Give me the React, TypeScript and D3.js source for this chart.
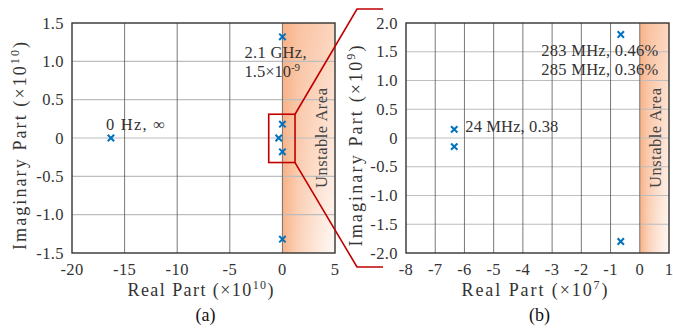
import React from "react";
import * as d3 from "d3";

const FONT = "'Liberation Serif', 'DejaVu Serif', serif";
const BLUE = "#0072BD";
const RED = "#C00000";

// Panel (a) data (units of 1e10)
const aXTicks = [-20, -15, -10, -5, 0, 5];
const aYTicks = [-1.5, -1.0, -0.5, 0, 0.5, 1.0, 1.5];
const aPolesRe = [-16.3, 0, 0, -0.35, 0, 0];
const aPolesIm = [0, 1.32, 0.18, 0, -0.18, -1.32];

// Panel (b) data (real 1e7, imag 1e9)
const bXTicks = [-8, -7, -6, -5, -4, -3, -2, -1, 0, 1];
const bYTicks = [-2.0, -1.5, -1.0, -0.5, 0, 0.5, 1.0, 1.5, 2.0];
const bPolesRe = [-0.65, -0.65, -6.35, -6.35];
const bPolesIm = [1.8, -1.8, 0.15, -0.15];

const fmtY = (v: number) => (v === 0 ? "0" : v.toFixed(1));

function Cross({ x, y }: { x: number; y: number }) {
  const s = 3.2;
  return (
    <g stroke={BLUE} strokeWidth={2}>
      <line x1={x - s} y1={y - s} x2={x + s} y2={y + s} />
      <line x1={x - s} y1={y + s} x2={x + s} y2={y - s} />
    </g>
  );
}

function Panel(props: {
  id: string;
  x0: number;
  x1: number;
  y0: number;
  y1: number;
  xDomain: [number, number];
  yDomain: [number, number];
  xTicks: number[];
  yTicks: number[];
  re: number[];
  im: number[];
  xExp: string;
  yExp: string;
  tag: string;
  yLabelX: number;
  yLabelLen: number;
  children?: (x: d3.ScaleLinear<number, number>, y: d3.ScaleLinear<number, number>) => React.ReactNode;
}) {
  const x = d3.scaleLinear().domain(props.xDomain).range([props.x0, props.x1]);
  const y = d3.scaleLinear().domain(props.yDomain).range([props.y1, props.y0]);
  const zx = x(0);
  const gid = "grad" + props.id;
  const vid = "vgrad" + props.id;
  const mid = "mask" + props.id;
  const hmid = "hmask" + props.id;
  const cx = (props.x0 + props.x1) / 2;
  const cy = (props.y0 + props.y1) / 2;
  const w = props.x1 - zx;
  const h = props.y1 - props.y0;
  return (
    <g fontFamily={FONT} fill="#333">
      <defs>
        <linearGradient id={gid} x1="0" x2="1" y1="0" y2="0">
          <stop offset="0" stopColor="#f8b287" />
          <stop offset="0.3" stopColor="#fac3a2" />
          <stop offset="1" stopColor="#fcd6bf" />
        </linearGradient>
        <linearGradient id={vid} x1="0" x2="0" y1="0" y2="1">
          <stop offset="0" stopColor="#fff" stopOpacity={0} />
          <stop offset="1" stopColor="#fff" stopOpacity={0.85} />
        </linearGradient>
        <linearGradient id={hmid} x1="0" x2="1" y1="0" y2="0">
          <stop offset="0" stopColor="#000" />
          <stop offset="0.2" stopColor="#333" />
          <stop offset="1" stopColor="#fff" />
        </linearGradient>
        <mask id={mid} maskUnits="userSpaceOnUse" x={zx} y={props.y0} width={w} height={h}>
          <rect x={zx} y={props.y0} width={w} height={h} fill={`url(#${hmid})`} />
        </mask>
      </defs>
      <rect x={zx} y={props.y0} width={w} height={h} fill={`url(#${gid})`} />
      <rect x={zx} y={props.y0} width={w} height={h} fill={`url(#${vid})`} mask={`url(#${mid})`} />
      {props.yTicks.slice(1, -1).map((t) => (
        <line key={"h" + t} x1={props.x0} x2={props.x1} y1={y(t)} y2={y(t)} stroke="#bdbdbd" strokeWidth={1.2} />
      ))}
      {props.xTicks.slice(1, -1).map((t) => (
        <line key={"v" + t} x1={x(t)} x2={x(t)} y1={props.y0} y2={props.y1} stroke="#555" strokeWidth={0.8} />
      ))}
      <rect x={props.x0} y={props.y0} width={props.x1 - props.x0} height={h} fill="none" stroke="#333" strokeWidth={1.4} />
      <text
        transform={`translate(${props.x1 - 8},${cy}) rotate(-90)`}
        textAnchor="middle"
        fontSize={16.5}
        fill="#444"
        textLength={100}
        lengthAdjust="spacing"
      >
        Unstable Area
      </text>
      {props.re.map((r, i) => (
        <Cross key={i} x={x(r)} y={y(props.im[i])} />
      ))}
      {props.xTicks.map((t) => (
        <text key={"xt" + t} x={x(t)} y={props.y1 + 22} textAnchor="middle" fontSize={16.5} letterSpacing={0.4}>
          {String(t)}
        </text>
      ))}
      {props.yTicks.map((t) => (
        <text key={"yt" + t} x={props.x0 - 8} y={y(t) + 5.5} textAnchor="end" fontSize={16.5} letterSpacing={0.4}>
          {fmtY(t)}
        </text>
      ))}
      <text x={cx - 3} y={props.y1 + 43} textAnchor="middle" fontSize={18} textLength={146} lengthAdjust="spacing">
        Real Part (×10<tspan dy={-7} fontSize={12}>{props.xExp}</tspan>
        <tspan dy={7}>)</tspan>
      </text>
      <text
        transform={`translate(${props.yLabelX},146) rotate(-90)`}
        textAnchor="middle"
        fontSize={18}
        textLength={props.yLabelLen}
        lengthAdjust="spacing"
      >
        Imaginary Part (×10<tspan dy={-7} fontSize={12}>{props.yExp}</tspan>
        <tspan dy={7}>)</tspan>
      </text>
      <text x={cx + 2} y={props.y1 + 68} textAnchor="middle" fontSize={18} fill="#111">
        {props.tag}
      </text>
      {props.children ? props.children(x, y) : null}
    </g>
  );
}

export default function App() {
  return (
    <svg width={673} height={330} style={{ position: "absolute", left: 0, top: 0, background: "#fff" }}>
      <Panel
        id="a"
        x0={72}
        x1={335}
        y0={23}
        y1={253}
        xDomain={[-20, 5]}
        yDomain={[-1.5, 1.5]}
        xTicks={aXTicks}
        yTicks={aYTicks}
        re={aPolesRe}
        im={aPolesIm}
        xExp="10"
        yExp="10"
        tag="(a)"
        yLabelX={26}
        yLabelLen={208}
      >
        {(x, y) => {
          const bx0 = x(-1.3), bx1 = x(1.2), by0 = y(0.31), by1 = y(-0.32);
          return (
            <g fontSize={16.5} fill="#333">
              <text x={x(-16.3) - 5} y={y(0) - 8} textLength={59} lengthAdjust="spacing">0 Hz, ∞</text>
              <text x={x(-3.6)} y={y(1.04)} textLength={62} lengthAdjust="spacing">2.1 GHz,</text>
              <text x={x(-3.6)} y={y(0.79)}>
                1.5×10<tspan dy={-6} fontSize={11}>-9</tspan>
              </text>
              <rect x={bx0} y={by0} width={bx1 - bx0} height={by1 - by0} fill="none" stroke={RED} strokeWidth={1.6} />
              <polyline points={`${bx1},${by0} 357,9 383,9`} fill="none" stroke={RED} strokeWidth={1.6} />
              <polyline points={`${bx1},${by1} 357,267 383,267`} fill="none" stroke={RED} strokeWidth={1.6} />
            </g>
          );
        }}
      </Panel>
      <Panel
        id="b"
        x0={406}
        x1={669}
        y0={23}
        y1={253}
        xDomain={[-8, 1]}
        yDomain={[-2, 2]}
        xTicks={bXTicks}
        yTicks={bYTicks}
        re={bPolesRe}
        im={bPolesIm}
        xExp="7"
        yExp="9"
        tag="(b)"
        yLabelX={362}
        yLabelLen={201}
      >
        {(x, y) => (
          <g fontSize={16.5} fill="#333">
            <text x={x(-5.97)} y={y(0.1)} textLength={93} lengthAdjust="spacing">24 MHz, 0.38</text>
            <text x={x(-3.37)} y={y(1.42)} textLength={117} lengthAdjust="spacing">283 MHz, 0.46%</text>
            <text x={x(-3.37)} y={y(1.1)} textLength={117} lengthAdjust="spacing">285 MHz, 0.36%</text>
          </g>
        )}
      </Panel>
    </svg>
  );
}
